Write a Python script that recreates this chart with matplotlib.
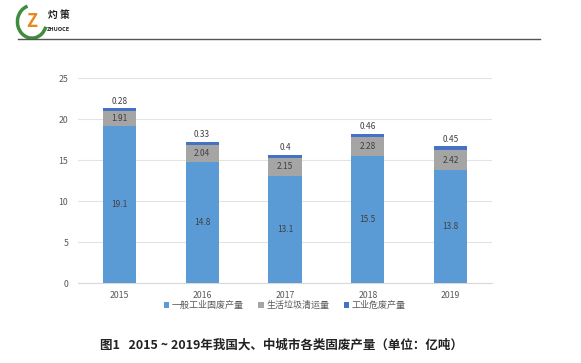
import matplotlib
matplotlib.use("Agg")
import matplotlib.pyplot as plt
from matplotlib.patches import Arc
import numpy as np

plt.rcParams['font.family'] = ['Noto Sans CJK SC', 'DejaVu Sans']

years = ['2015', '2016', '2017', '2018', '2019']
general_industrial = [19.1, 14.8, 13.1, 15.5, 13.8]
household = [1.91, 2.04, 2.15, 2.28, 2.42]
hazardous = [0.28, 0.33, 0.4, 0.46, 0.45]
general_labels = ['19.1', '14.8', '13.1', '15.5', '13.8']
household_labels = ['1.91', '2.04', '2.15', '2.28', '2.42']
hazardous_labels = ['0.28', '0.33', '0.4', '0.46', '0.45']
series_names = ['一般工业固废产量', '生活垃圾清运量', '工业危废产量']
yticks = [0, 5, 10, 15, 20, 25]
title = '图1   2015 ~ 2019年我国大、中城市各类固废产量（单位：亿吨）'

c1, c2, c3 = '#5B9BD5', '#A5A5A5', '#4472C4'
txt = '#595959'

fig = plt.figure(figsize=(5.81, 3.63), dpi=100)
ax = fig.add_axes([0.134, 0.220, 0.713, 0.565])
x = np.arange(len(years))
w = 0.40
b1 = ax.bar(x, general_industrial, w, color=c1, label=series_names[0], zorder=3)
bot2 = np.array(general_industrial)
b2 = ax.bar(x, household, w, bottom=bot2, color=c2, label=series_names[1], zorder=3)
bot3 = bot2 + np.array(household)
b3 = ax.bar(x, hazardous, w, bottom=bot3, color=c3, label=series_names[2], zorder=3)

for i in range(len(years)):
    ax.text(x[i], general_industrial[i] / 2, general_labels[i], ha='center', va='center',
            fontsize=6, color='#404040', zorder=4)
    ax.text(x[i], bot2[i] + household[i] / 2, household_labels[i], ha='center', va='center',
            fontsize=6, color='#404040', zorder=4)
    ax.text(x[i], bot3[i] + hazardous[i] + 0.35, hazardous_labels[i], ha='center', va='bottom',
            fontsize=6, color='#404040', zorder=4)

ax.set_ylim(0, 25)
ax.set_xlim(-0.5, 4.5)
ax.set_yticks(yticks)
ax.set_xticks(x)
ax.set_xticklabels(years)
ax.tick_params(axis='both', length=0, labelsize=6.3, colors=txt)
ax.tick_params(axis='y', pad=7)
ax.tick_params(axis='x', pad=6)
ax.grid(axis='y', color='#E3E3E3', linewidth=0.8, zorder=0)
for s in ['top', 'right', 'left']:
    ax.spines[s].set_visible(False)
ax.spines['bottom'].set_color('#D9D9D9')

leg = fig.legend(handles=[b1, b2, b3], labels=series_names, loc='center',
                 bbox_to_anchor=(0.49, 0.158), ncol=3, frameon=False, fontsize=6.5,
                 handlelength=0.6, handleheight=0.6, handletextpad=0.3, columnspacing=1.6,
                 labelcolor=txt)

fig.text(0.484, 0.048, title, ha='center', va='center', fontsize=9,
         fontweight='bold', color='#222222')

# header line
fig.add_artist(plt.Line2D([0.031, 0.93], [0.893, 0.893], color='#555555', linewidth=1.0))
# logo
fig.add_artist(Arc((0.055, 0.94), 0.05, 0.09, theta1=100, theta2=330,
                   color='#3C8D3C', linewidth=2.5, transform=fig.transFigure))
fig.text(0.055, 0.94, 'Z', ha='center', va='center', fontsize=13, fontweight='bold',
         color='#E8891E', fontstyle='italic')
fig.text(0.083, 0.958, '灼 策', ha='left', va='center', fontsize=7, fontweight='bold', color='#222222')
fig.text(0.081, 0.918, 'ZHUOCE', ha='left', va='center', fontsize=4, fontweight='bold', color='#222222')

fig.savefig('out.png', dpi=100, facecolor='white')
